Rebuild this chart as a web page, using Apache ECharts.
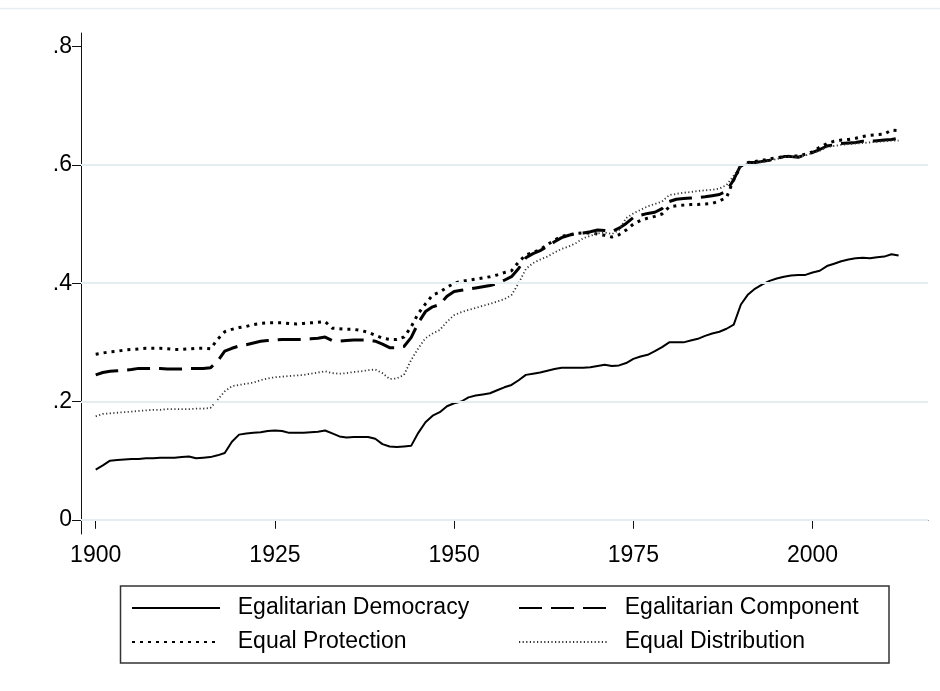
<!DOCTYPE html>
<html>
<head>
<meta charset="utf-8">
<script src="https://cdn.jsdelivr.net/npm/echarts@6/dist/echarts.min.js"></script>
<style>
  html, body { margin: 0; padding: 0; background: #fff; }
  #chart { width: 940px; height: 691px; }
</style>
</head>
<body>
<div id="chart"></div>
<script>
(function () {
  'use strict';

  var firstYear = 1900;
  var xTicks = [1900, 1925, 1950, 1975, 2000];
  var yTicks = [0, 0.2, 0.4, 0.6, 0.8];
  var gridValues = [0, 0.2, 0.4, 0.6];

  // 1900 .. 2012, one value per year
  var egalDemocracy = [
    0.085, 0.092, 0.100, 0.101, 0.102, 0.103, 0.103, 0.104, 0.104, 0.105,
    0.105, 0.105, 0.106, 0.107, 0.104, 0.105, 0.106, 0.109, 0.113, 0.132,
    0.144, 0.146, 0.147, 0.148, 0.150, 0.151, 0.150, 0.147, 0.147, 0.147,
    0.148, 0.149, 0.151, 0.146, 0.141, 0.139, 0.140, 0.140, 0.140, 0.137,
    0.128, 0.124, 0.123, 0.124, 0.125, 0.147, 0.165, 0.176, 0.182, 0.192,
    0.197, 0.200, 0.207, 0.210, 0.212, 0.214, 0.219, 0.224, 0.228, 0.236,
    0.245, 0.247, 0.249, 0.252, 0.255, 0.257, 0.257, 0.257, 0.257, 0.258,
    0.260, 0.262, 0.260, 0.261, 0.265, 0.272, 0.276, 0.279, 0.285, 0.292,
    0.300, 0.300, 0.300, 0.303, 0.306, 0.311, 0.315, 0.318, 0.323, 0.330,
    0.364, 0.381, 0.391, 0.398, 0.404, 0.408, 0.411, 0.413, 0.414, 0.414,
    0.418, 0.421, 0.429, 0.433, 0.437, 0.440, 0.442, 0.443, 0.442, 0.444,
    0.445, 0.449, 0.447
  ];
  var egalComponent = [
    0.245, 0.249, 0.251, 0.252, 0.253, 0.254, 0.256, 0.256, 0.256, 0.256,
    0.255, 0.255, 0.255, 0.256, 0.256, 0.256, 0.257, 0.268, 0.285, 0.290,
    0.294, 0.296, 0.299, 0.302, 0.303, 0.304, 0.305, 0.305, 0.305, 0.305,
    0.306, 0.307, 0.309, 0.303, 0.302, 0.303, 0.304, 0.304, 0.304, 0.302,
    0.297, 0.291, 0.291, 0.293, 0.308, 0.333, 0.352, 0.360, 0.364, 0.378,
    0.386, 0.388, 0.390, 0.392, 0.394, 0.396, 0.399, 0.405, 0.411, 0.425,
    0.443, 0.450, 0.455, 0.462, 0.470, 0.477, 0.481, 0.484, 0.485, 0.487,
    0.490, 0.489, 0.487, 0.493, 0.501, 0.511, 0.515, 0.518, 0.520, 0.526,
    0.538, 0.542, 0.543, 0.544, 0.545, 0.546, 0.548, 0.550, 0.556, 0.575,
    0.600, 0.604, 0.604, 0.606, 0.608, 0.611, 0.614, 0.614, 0.613, 0.617,
    0.621, 0.626, 0.632, 0.634, 0.636, 0.637, 0.638, 0.640, 0.640, 0.641,
    0.642, 0.643, 0.645
  ];
  var equalProtection = [
    0.280, 0.282, 0.284, 0.285, 0.287, 0.288, 0.289, 0.290, 0.290, 0.290,
    0.289, 0.288, 0.288, 0.289, 0.290, 0.290, 0.289, 0.305, 0.318, 0.322,
    0.325, 0.327, 0.330, 0.332, 0.333, 0.333, 0.333, 0.332, 0.331, 0.332,
    0.333, 0.334, 0.335, 0.324, 0.323, 0.322, 0.322, 0.320, 0.317, 0.312,
    0.307, 0.305, 0.305, 0.309, 0.326, 0.349, 0.365, 0.380, 0.385, 0.393,
    0.400, 0.403, 0.405, 0.407, 0.409, 0.411, 0.414, 0.418, 0.421, 0.436,
    0.448, 0.452, 0.457, 0.465, 0.473, 0.479, 0.482, 0.484, 0.485, 0.485,
    0.483, 0.481, 0.478, 0.482, 0.490, 0.500, 0.506, 0.510, 0.513, 0.517,
    0.529, 0.531, 0.532, 0.533, 0.533, 0.534, 0.535, 0.539, 0.545, 0.575,
    0.598, 0.604, 0.606, 0.608, 0.610, 0.612, 0.614, 0.615, 0.615, 0.618,
    0.622, 0.630, 0.636, 0.640, 0.642, 0.643, 0.645, 0.648, 0.650, 0.651,
    0.652, 0.659, 0.658
  ];
  var equalDistribution = [
    0.175, 0.179, 0.180, 0.181, 0.182, 0.183, 0.184, 0.185, 0.186, 0.186,
    0.187, 0.187, 0.187, 0.187, 0.188, 0.188, 0.189, 0.203, 0.217, 0.226,
    0.228, 0.230, 0.232, 0.236, 0.239, 0.241, 0.242, 0.243, 0.244, 0.245,
    0.247, 0.249, 0.251, 0.248, 0.247, 0.248, 0.250, 0.251, 0.253, 0.254,
    0.248, 0.238, 0.239, 0.245, 0.270, 0.290, 0.307, 0.315, 0.321, 0.335,
    0.346, 0.351, 0.355, 0.358, 0.362, 0.365, 0.369, 0.373, 0.380, 0.400,
    0.424, 0.434, 0.440, 0.445, 0.452, 0.458, 0.462, 0.468, 0.476, 0.480,
    0.484, 0.486, 0.483, 0.490, 0.510, 0.518, 0.524, 0.530, 0.534, 0.538,
    0.549, 0.551, 0.553, 0.554, 0.556, 0.557, 0.558, 0.560, 0.566, 0.582,
    0.598, 0.602, 0.603, 0.605, 0.607, 0.610, 0.613, 0.614, 0.613, 0.616,
    0.620, 0.624, 0.630, 0.632, 0.634, 0.635, 0.636, 0.637, 0.638, 0.639,
    0.640, 0.641, 0.641
  ];

  var fontFamily = '"Liberation Sans", Arial, Helvetica, sans-serif';

  function toPairs(values) {
    return values.map(function (v, i) {
      return [firstYear + i, v];
    });
  }

  function lineSeries(name, values, lineStyle) {
    return {
      name: name,
      type: 'line',
      data: toPairs(values),
      symbol: 'none',
      smooth: false,
      silent: true,
      itemStyle: { color: lineStyle.color },
      lineStyle: lineStyle
    };
  }

  var series = [
    lineSeries('Egalitarian Democracy', egalDemocracy, {
      color: '#000', width: 2, type: 'solid'
    }),
    lineSeries('Egalitarian Component', egalComponent, {
      color: '#000', width: 3, type: [23, 9], cap: 'butt'
    }),
    lineSeries('Equal Protection', equalProtection, {
      color: '#000', width: 3, type: [3, 5], cap: 'butt'
    }),
    lineSeries('Equal Distribution', equalDistribution, {
      color: '#333', width: 1.8, type: [1.2, 2.4], cap: 'butt'
    })
  ];

  // light grid lines (no line at the top label)
  series[0].markLine = {
    silent: true,
    symbol: 'none',
    label: { show: false },
    lineStyle: { color: '#e5edf1', width: 2, type: 'solid' },
    data: gridValues.map(function (v) { return { yAxis: v }; })
  };

  function legendBlock(left, names) {
    return {
      orient: 'vertical',
      left: left,
      top: 593,
      padding: 0,
      itemWidth: 88,
      itemHeight: 30,
      itemGap: 4,
      selectedMode: false,
      data: names,
      itemStyle: { opacity: 0, borderWidth: 0 },
      formatter: function (name) { return '  ' + name; },
      textStyle: { fontFamily: fontFamily, fontSize: 23, color: '#000', lineHeight: 30 }
    };
  }

  var option = {
    animation: false,
    backgroundColor: '#fff',
    grid: { left: 81, right: 12, top: 33, bottom: 157, containLabel: false },
    xAxis: {
      type: 'value',
      min: 1897.95,
      max: 2016.1,
      axisLine: { show: true, lineStyle: { color: '#111', width: 1 } },
      axisTick: { show: true, length: 9, customValues: xTicks, lineStyle: { color: '#111', width: 1 } },
      axisLabel: {
        customValues: xTicks,
        margin: 10,
        color: '#000',
        fontFamily: fontFamily,
        fontSize: 23,
        formatter: function (v) { return String(v); }
      },
      splitLine: { show: false }
    },
    yAxis: {
      type: 'value',
      min: -0.024,
      max: 0.823,
      axisLine: { show: true, lineStyle: { color: '#111', width: 1 } },
      axisTick: { show: true, length: 9, customValues: yTicks, lineStyle: { color: '#111', width: 1 } },
      axisLabel: {
        customValues: yTicks,
        margin: 9,
        color: '#000',
        fontFamily: fontFamily,
        fontSize: 23,
        formatter: function (v) {
          if (v === 0) { return '0'; }
          return String(Math.round(v * 10) / 10).replace(/^0/, '');
        }
      },
      splitLine: { show: false }
    },
    legend: [
      legendBlock(131, ['Egalitarian Democracy', 'Equal Protection']),
      legendBlock(518, ['Egalitarian Component', 'Equal Distribution'])
    ],
    graphic: [
      {
        type: 'line',
        silent: true,
        shape: { x1: 0, y1: 8.5, x2: 940, y2: 8.5 },
        style: { stroke: '#e5edf1', lineWidth: 1.5 }
      },
      {
        type: 'rect',
        silent: true,
        shape: { x: 120.5, y: 586, width: 768.5, height: 77 },
        style: { fill: null, stroke: '#333', lineWidth: 1.5 }
      }
    ],
    series: series
  };

  var myChart = echarts.init(document.getElementById('chart'), null, { renderer: 'canvas' });
  myChart.setOption(option);
}());
</script>
</body>
</html>
